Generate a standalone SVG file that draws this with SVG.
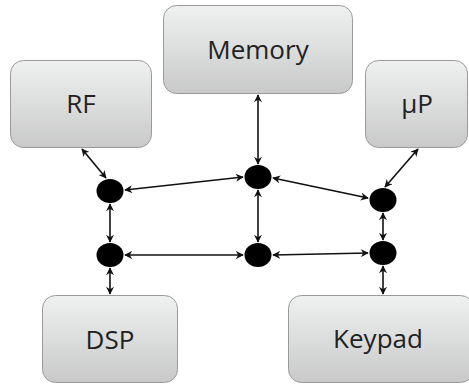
<svg xmlns="http://www.w3.org/2000/svg" width="469" height="384" viewBox="0 0 469 384">
<style>
.box{fill:url(#g);stroke:#9a9a9a;stroke-width:1}
.lbl{font-family:"Open Sans","Liberation Sans",sans-serif;font-size:26px;fill:#222;text-anchor:middle}
.dot{fill:#000}
.c{stroke:#111;stroke-width:1.6;fill:none;marker-start:url(#a);marker-end:url(#a)}
</style>
<defs>
<linearGradient id="g" x1="0" y1="0" x2="0" y2="1">
<stop offset="0" stop-color="#eff1f1"/>
<stop offset="1" stop-color="#c9c9c9"/>
</linearGradient>
<marker id="a" viewBox="0 0 10 10" refX="9" refY="5" markerWidth="5" markerHeight="5" orient="auto-start-reverse" markerUnits="strokeWidth">
<path d="M0,0 L10,5 L0,10 L3,5 Z" fill="#111"/>
</marker>
</defs>
<g id="memory"><rect class="box" x="163.5" y="5.5" width="189" height="88" rx="13"/><text class="lbl" x="258" y="59">Memory</text></g>
<g id="rf"><rect class="box" x="10.5" y="60.5" width="141" height="87" rx="13"/><text class="lbl" x="81" y="113">RF</text></g>
<g id="up"><rect class="box" x="365.5" y="60.5" width="102" height="87" rx="13"/><text class="lbl" x="417" y="113">µP</text></g>
<g id="dsp"><rect class="box" x="42.5" y="295.5" width="135" height="87" rx="13"/><text class="lbl" x="110" y="349">DSP</text></g>
<g id="keypad"><rect class="box" x="288.5" y="295.5" width="185" height="87" rx="13"/><text class="lbl" x="378" y="348">Keypad</text></g>
<g id="n1"><ellipse class="dot" cx="110" cy="191" rx="13.5" ry="12"/></g>
<g id="n2"><ellipse class="dot" cx="258" cy="177" rx="13.5" ry="12"/></g>
<g id="n3"><ellipse class="dot" cx="383" cy="200" rx="13.5" ry="12"/></g>
<g id="n4"><ellipse class="dot" cx="110" cy="255" rx="13.5" ry="12"/></g>
<g id="n5"><ellipse class="dot" cx="258" cy="255" rx="13.5" ry="12"/></g>
<g id="n6"><ellipse class="dot" cx="383" cy="253" rx="13.5" ry="12"/></g>
<g id="connectors">
<line class="c" x1="82" y1="149" x2="106" y2="178"/>
<line class="c" x1="125" y1="190" x2="243" y2="177"/>
<line class="c" x1="258" y1="95" x2="258" y2="164"/>
<line class="c" x1="273" y1="178" x2="368" y2="198"/>
<line class="c" x1="418" y1="149" x2="385" y2="187"/>
<line class="c" x1="110" y1="204" x2="110" y2="242"/>
<line class="c" x1="258" y1="190" x2="258" y2="242"/>
<line class="c" x1="383" y1="213" x2="383" y2="240"/>
<line class="c" x1="125" y1="255" x2="243" y2="255"/>
<line class="c" x1="273" y1="255" x2="368" y2="253"/>
<line class="c" x1="110" y1="268" x2="110" y2="294"/>
<line class="c" x1="383" y1="266" x2="383" y2="294"/>
</g>
</svg>
